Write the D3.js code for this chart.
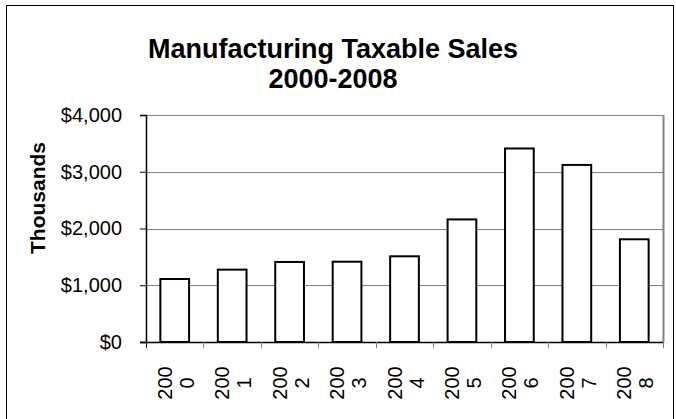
<!DOCTYPE html>
<html><head><meta charset="utf-8">
<script src="https://cdn.jsdelivr.net/npm/d3@7"></script>
<style>body{margin:0;background:#fff}svg{display:block}text{font-family:"Liberation Sans",Arial,sans-serif}</style>
</head><body><svg id="c" width="676" height="419"></svg>
<script>
const years = ["2000","2001","2002","2003","2004","2005","2006","2007","2008"];
const values = [1110, 1275, 1410, 1415, 1510, 2160, 3410, 3120, 1810];
const yTicks = [0, 1000, 2000, 3000, 4000];
const titleLines = ["Manufacturing Taxable Sales", "2000-2008"];
const yTitle = "Thousands";

const svg = d3.select("#c");
const L = 146, R = 663, T = 115, B = 342;

svg.append("rect").attr("x",6.5).attr("y",5.5).attr("width",667).attr("height",430)
  .attr("fill","#fff").attr("stroke","#000").attr("stroke-width",1);

const x = d3.scaleBand().domain(years).range([L, R]).paddingInner(0.5).paddingOuter(0.25);
const xc = d3.scaleBand().domain(years).range([L, R]);
const y = d3.scaleLinear().domain([0, 4000]).range([B, T]);

// gridlines
svg.append("g").selectAll("line").data(yTicks.filter(d=>d>0)).join("line")
  .attr("x1",L).attr("x2",R).attr("y1",d=>Math.round(y(d))+0.5).attr("y2",d=>Math.round(y(d))+0.5)
  .attr("stroke","#808080").attr("stroke-width",1);
// right border
svg.append("line").attr("x1",R+0.5).attr("x2",R+0.5).attr("y1",T).attr("y2",B).attr("stroke","#808080").attr("stroke-width",2);

// bars
svg.append("g").selectAll("rect").data(values).join("rect")
  .attr("x",(d,i)=>x(years[i])).attr("width",x.bandwidth())
  .attr("y",d=>y(d)).attr("height",d=>B-y(d))
  .attr("fill","#fff").attr("stroke","#000").attr("stroke-width",2);

// y axis
const ya = svg.append("g").attr("transform",`translate(${L},0)`)
  .call(d3.axisLeft(y).tickValues(yTicks).tickSize(6).tickPadding(18).tickFormat(d=>"$"+d3.format(",")(d)));
ya.select(".domain").attr("stroke","#000").attr("stroke-width",1.5);
ya.selectAll(".tick line").attr("stroke","#000");
ya.selectAll("text").attr("font-size",20).attr("fill","#000").attr("font-family",'"Liberation Sans",Arial,sans-serif');

// x axis
const xa = svg.append("g").attr("transform",`translate(0,${B})`);
xa.append("line").attr("x1",L-6).attr("x2",R).attr("y1",0.5).attr("y2",0.5).attr("stroke","#000").attr("stroke-width",1.5);
xa.selectAll("line.t").data(years.slice(1).concat(["end"])).join("line").attr("class","t")
  .attr("x1",(d,i)=>Math.round(L + (i+1)*xc.bandwidth())+0.5).attr("x2",(d,i)=>Math.round(L + (i+1)*xc.bandwidth())+0.5)
  .attr("y1",0).attr("y2",6).attr("stroke","#808080");
xa.append("line").attr("x1",L+0.5).attr("x2",L+0.5).attr("y1",0).attr("y2",6).attr("stroke","#000");

const lbl = svg.append("g").selectAll("g").data(years).join("g")
  .attr("transform",d=>`translate(${xc(d)+xc.bandwidth()/2},383) rotate(-90)`);
lbl.append("text").attr("text-anchor","middle").attr("x",0).attr("y",-3).attr("font-size",20).text(d=>d.slice(0,3));
lbl.append("text").attr("text-anchor","middle").attr("x",0).attr("y",19).attr("font-size",20).text(d=>d.slice(3));

// y title
svg.append("text").attr("transform","translate(45,198) rotate(-90)").attr("text-anchor","middle")
  .attr("font-size",21).attr("font-weight","bold").text(yTitle);

// title
svg.append("g").selectAll("text").data(titleLines).join("text")
  .attr("x",333).attr("y",(d,i)=>58+i*30).attr("text-anchor","middle")
  .attr("font-size",27).attr("font-weight","bold").text(d=>d);
</script></body></html>
